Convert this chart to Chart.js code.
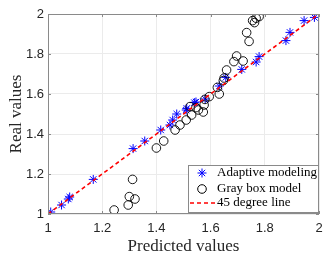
<!DOCTYPE html>
<html><head><meta charset="utf-8">
<script src="https://cdn.jsdelivr.net/npm/chart.js@4/dist/chart.umd.min.js"></script>
<style>html,body{margin:0;padding:0;background:#fff;}canvas{display:block;}</style>
</head><body>
<canvas id="c" width="335" height="257"></canvas>
<script>
const seriesNames = ["Adaptive modeling", "Gray box model", "45 degree line"];
const adaptivePredicted = [1.01,1.05,1.075,1.08,1.167,1.314,1.357,1.416,1.45,1.46,1.475,1.51,1.512,1.54,1.546,1.58,1.632,1.656,1.715,1.768,1.779,1.878,1.893,1.945,1.983];
const adaptiveReal      = [1.01,1.045,1.075,1.085,1.173,1.327,1.365,1.42,1.445,1.47,1.50,1.52,1.528,1.557,1.56,1.575,1.64,1.683,1.723,1.76,1.787,1.867,1.908,1.967,1.983];
const grayPredicted = [1.244,1.296,1.30,1.321,1.312,1.40,1.427,1.469,1.487,1.51,1.53,1.555,1.576,1.524,1.546,1.573,1.579,1.595,1.625,1.632,1.647,1.65,1.659,1.686,1.696,1.72,1.733,1.742,1.755,1.762,1.768,1.779];
const grayReal      = [1.02,1.045,1.087,1.075,1.173,1.33,1.365,1.42,1.445,1.47,1.495,1.52,1.545,1.537,1.532,1.51,1.573,1.587,1.633,1.60,1.667,1.68,1.72,1.762,1.79,1.765,1.907,1.863,1.967,1.957,1.979,1.987];
const lineX = [1, 2];
const lineY = [1, 2];
const xTicks = [1, 1.2, 1.4, 1.6, 1.8, 2];
const yTicks = [1, 1.2, 1.4, 1.6, 1.8, 2];
const xTitle = "Predicted values";
const yTitle = "Real values";

const toPts = (xs, ys) => xs.map((x, i) => ({x: x, y: ys[i]}));
const serif = "'Liberation Serif','DejaVu Serif',serif";
const sans = "'Liberation Sans','DejaVu Sans',sans-serif";

const boxPlugin = {
  id: 'box',
  afterDatasetsDraw(chart) {
    const {ctx, chartArea: a, scales} = chart;
    ctx.save();
    ctx.strokeStyle = '#8a8a8a';
    ctx.lineWidth = 1;
    ctx.strokeRect(a.left + 0.5, a.top + 0.5, a.right - a.left - 1, a.bottom - a.top - 1);
    ctx.beginPath();
    xTicks.forEach(v => {
      const px = Math.round(scales.x.getPixelForValue(v)) + 0.5;
      ctx.moveTo(px, a.bottom); ctx.lineTo(px, a.bottom - 3);
      ctx.moveTo(px, a.top); ctx.lineTo(px, a.top + 3);
    });
    yTicks.forEach(v => {
      const py = Math.round(scales.y.getPixelForValue(v)) + 0.5;
      ctx.moveTo(a.left, py); ctx.lineTo(a.left + 3, py);
      ctx.moveTo(a.right, py); ctx.lineTo(a.right - 3, py);
    });
    ctx.stroke();
    // legend
    const lx = 188, ly = 165, lw = 130, lh = 47;
    ctx.fillStyle = '#fff';
    ctx.fillRect(lx, ly, lw, lh);
    ctx.strokeStyle = '#8a8a8a';
    ctx.strokeRect(lx + 0.5, ly + 0.5, lw, lh);
    const rows = [173, 189, 203];
    const mx = 202;
    ctx.strokeStyle = 'rgb(0,0,255)';
    ctx.lineWidth = 1;
    ctx.beginPath();
    const r = 4.5;
    for (let k = 0; k < 4; k++) {
      const ang = k * Math.PI / 4;
      ctx.moveTo(mx - r * Math.cos(ang), rows[0] - r * Math.sin(ang));
      ctx.lineTo(mx + r * Math.cos(ang), rows[0] + r * Math.sin(ang));
    }
    ctx.stroke();
    ctx.strokeStyle = '#000';
    ctx.beginPath();
    ctx.arc(mx, rows[1], 4.3, 0, Math.PI * 2);
    ctx.stroke();
    ctx.strokeStyle = 'rgb(255,0,0)';
    ctx.lineWidth = 1.5;
    ctx.setLineDash([4, 3]);
    ctx.beginPath();
    ctx.moveTo(190, rows[2]); ctx.lineTo(215, rows[2]);
    ctx.stroke();
    ctx.setLineDash([]);
    ctx.fillStyle = '#000';
    ctx.font = '13px ' + serif;
    ctx.textBaseline = 'middle';
    ctx.textAlign = 'left';
    seriesNames.forEach((n, i) => ctx.fillText(n, 217, rows[i]));
    ctx.restore();
  }
};

new Chart(document.getElementById('c'), {
  type: 'scatter',
  data: {
    datasets: [
      {label: seriesNames[0], data: toPts(adaptivePredicted, adaptiveReal), pointStyle: 'star',
       borderColor: 'rgb(0,0,255)', backgroundColor: 'rgb(0,0,255)', pointRadius: 4.5, pointBorderWidth: 1, order: 2},
      {label: seriesNames[1], data: toPts(grayPredicted, grayReal), pointStyle: 'circle',
       borderColor: '#000', backgroundColor: 'rgba(0,0,0,0)', pointRadius: 4.3, pointBorderWidth: 0.9, order: 1},
      {type: 'line', label: seriesNames[2], data: toPts(lineX, lineY), borderColor: 'rgb(255,0,0)',
       borderDash: [4, 3], borderWidth: 1.6, pointRadius: 0, fill: false, order: 0}
    ]
  },
  options: {
    responsive: false,
    animation: false,
    devicePixelRatio: 1,
    layout: {padding: {left: 0, right: 16, top: 14, bottom: 0}},
    plugins: {legend: {display: false}, tooltip: {enabled: false}},
    scales: {
      x: {
        type: 'linear', min: 1, max: 2,
        afterBuildTicks: s => { s.ticks = xTicks.map(v => ({value: v})); },
        afterFit: s => { s.height = 43; },
        grid: {color: '#ebebeb', drawTicks: false, lineWidth: 1},
        border: {display: false},
        ticks: {padding: 7, color: '#262626', font: {family: sans, size: 13}, maxRotation: 0,
                callback: v => String(v)},
        title: {display: true, text: xTitle, color: '#262626', font: {family: serif, size: 17}, padding: {top: 0, bottom: 0}}
      },
      y: {
        type: 'linear', min: 1, max: 2,
        afterBuildTicks: s => { s.ticks = yTicks.map(v => ({value: v})); },
        afterFit: s => { s.width = 48; },
        grid: {color: '#ebebeb', drawTicks: false, lineWidth: 1},
        border: {display: false},
        ticks: {padding: 4, color: '#262626', font: {family: sans, size: 13},
                callback: v => String(v)},
        title: {display: true, text: yTitle, color: '#262626', font: {family: serif, size: 17}, padding: {top: 6, bottom: 0}}
      }
    }
  },
  plugins: [boxPlugin]
});
</script>
</body></html>
